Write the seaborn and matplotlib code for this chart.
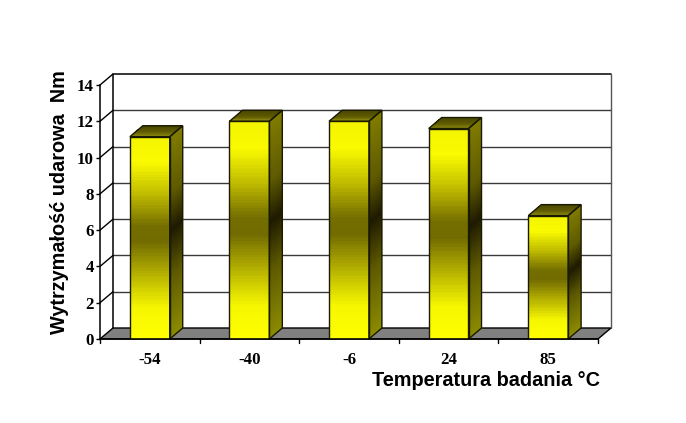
import numpy as np
import matplotlib
matplotlib.use("Agg")
import matplotlib.pyplot as plt
import seaborn as sns
from matplotlib.patches import Polygon
from matplotlib.colors import to_rgb

temps = ["-54", "-40", "-6", "24", "85"]
strength = [11.15, 12.0, 12.0, 11.6, 6.8]
yticks = [0, 2, 4, 6, 8, 10, 12, 14]
ylabel = "Wytrzymałość udarowa  Nm"
xlabel = "Temperatura badania °C"

W, H = 686, 423
L, R, B, T = 100, 598, 339, 85
DPX, DPY = 13, 11

sns.set_theme(style="white")
fig = plt.figure(figsize=(W / 100, H / 100), dpi=100, facecolor="white")
rect = [L / W, 1 - B / H, (R - L) / W, (B - T) / H]
ax = fig.add_axes(rect, zorder=2)
ax.set_facecolor("none")
ov = fig.add_axes(rect, zorder=1)
ov.set_xlim(-0.5, 4.5)
ov.set_ylim(0, 14)
ov.axis("off")

sns.barplot(x=temps, y=strength, color="#ffff00", width=0.4, ax=ax,
            saturation=1, edgecolor="#1a1a00", linewidth=1)
ax.set_xlim(-0.5, 4.5)
ax.set_ylim(0, 14)
dx = DPX * 5 / (R - L)
dy = DPY * 14 / (B - T)


def ramp(stops, n):
    pos = [s[0] for s in stops]
    cols = np.array([to_rgb(s[1]) for s in stops])
    t = np.linspace(0, 1, n)
    return np.stack([np.interp(t, pos, cols[:, i]) for i in range(3)], axis=1)


front_stops = [(0, "#f4f400"), (0.12, "#fafa00"), (0.28, "#c0bc00"), (0.44, "#746e00"),
               (0.52, "#726c00"), (0.68, "#b4b000"), (0.85, "#f6f600"), (1, "#ffff00")]
side_stops = [(0, "#807c00"), (0.28, "#5e5a00"), (0.47, "#1e1a00"),
              (0.7, "#5e5a00"), (1, "#8a8a00")]
top_stops = [(0, "#4a4600"), (0.55, "#5e5a00"), (1, "#8c8a10")]


def face(X, Y, stops, n, z):
    ov.pcolormesh(X, Y, ramp(stops, n)[:, None, :], shading="flat", linewidth=0,
                  antialiased=False, zorder=z, clip_on=False)


# walls and floor
ov.add_patch(Polygon([(-0.5, 0), (4.5, 0), (4.5 + dx, dy), (-0.5 + dx, dy)], closed=True,
                     facecolor="#808080", edgecolor="black", lw=1, clip_on=False, zorder=1))
for v in yticks[1:-1]:
    ov.plot([-0.5 + dx, 4.5 + dx], [v + dy, v + dy], color="#3a3a3a", lw=1, clip_on=False, zorder=1)
for v in yticks[1:]:
    ov.plot([-0.5, -0.5 + dx], [v, v + dy], color="black", lw=1, clip_on=False, zorder=1)
ov.plot([-0.5 + dx, -0.5 + dx, 4.5 + dx], [dy, 14 + dy, 14 + dy], color="black", lw=1.1,
        clip_on=False, zorder=1)
ov.plot([4.5 + dx, 4.5 + dx], [dy, 14 + dy], color="#555555", lw=1, clip_on=False, zorder=1)

# shade each bar from the bars seaborn drew
for i, p in enumerate(ax.patches):
    x0, x1 = p.get_x(), p.get_x() + p.get_width()
    h = p.get_height()
    z = 5 + i
    p.set_facecolor("none")
    n = 80
    ys = np.linspace(h, 0, n + 1)
    # front
    face(np.column_stack([np.full(n + 1, x0), np.full(n + 1, x1)]),
         np.column_stack([ys, ys]), front_stops, n, z)
    # side
    face(np.column_stack([np.full(n + 1, x1), np.full(n + 1, x1 + dx)]),
         np.column_stack([ys, ys + dy]), side_stops, n, z)
    ov.add_patch(Polygon([(x1, 0), (x1 + dx, dy), (x1 + dx, h + dy), (x1, h)], closed=True,
                         fill=False, edgecolor="#1a1a00", lw=1, clip_on=False, zorder=z + 0.5))
    # top
    m = 12
    ts = np.linspace(1, 0, m + 1)
    face(np.column_stack([x0 + dx * ts, x1 + dx * ts]),
         np.column_stack([h + dy * ts, h + dy * ts]), top_stops, m, z)
    ov.add_patch(Polygon([(x0, h), (x1, h), (x1 + dx, h + dy), (x0 + dx, h + dy)], closed=True,
                         fill=False, edgecolor="#1a1a00", lw=1, clip_on=False, zorder=z + 0.5))

# axes
sns.despine(ax=ax, top=True, right=True)
for s in ("left", "bottom"):
    ax.spines[s].set_color("black")
    ax.spines[s].set_linewidth(1.1)
ax.set_yticks(yticks)
ax.set_yticklabels([str(v) for v in yticks], family="Liberation Serif", fontweight="bold",
                   fontsize=12.2, color="black")
ax.set_xticks(range(5))
ax.set_xticklabels(temps, family="Liberation Serif", fontweight="bold", fontsize=12.2, color="black")
ax.tick_params(axis="x", length=0, pad=9)
ax.tick_params(axis="y", length=3, width=1, color="black", pad=1.5, left=True)
for b in np.arange(-0.5, 5):
    ov.plot([b, b], [0, -0.22], color="black", lw=1, clip_on=False, zorder=3)

ax.set_xlabel("")
ax.set_ylabel("")
fig.text(600 / W, 1 - 380 / H, xlabel, ha="right", va="center", family="Liberation Sans",
         fontweight="bold", fontsize=14.3, color="black")
fig.text(59.5 / W, 1 - 202 / H, ylabel, ha="center", va="center", rotation=90,
         family="Liberation Sans", fontweight="bold", fontsize=14.3, color="black")

fig.savefig("out.png", dpi=100, facecolor="white")
